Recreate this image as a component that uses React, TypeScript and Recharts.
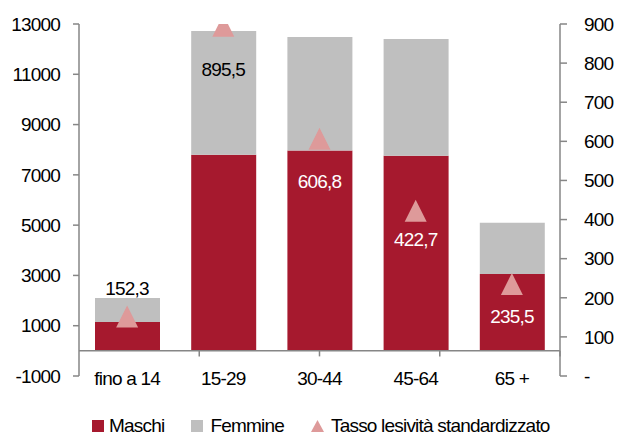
import { ComposedChart, Bar, Line, XAxis, YAxis, ReferenceLine } from "recharts";

const categories = ["fino a 14", "15-29", "30-44", "45-64", "65 +"];
const maschi = [1150, 7800, 7970, 7760, 3060];
const femmine = [950, 4920, 4510, 4640, 2040];
const tasso = [152.3, 895.5, 606.8, 422.7, 235.5];
const leftTicks = [-1000, 1000, 3000, 5000, 7000, 9000, 11000, 13000];
const rightTicks = [0, 100, 200, 300, 400, 500, 600, 700, 800, 900];
const boundaries = [1, 2, 3, 4];

// label placement relative to the triangle (px), and text colour
const labelShift = [-28, 44, 43, 29, 33];
const labelColor = ["#000", "#000", "#fff", "#fff", "#fff"];

const RED = "#A6192E";
const GREY = "#BFBFBF";
const PINK = "#DE9A9A";
const AXIS = "#868686";
const FONT = "'Liberation Sans', Arial, sans-serif";
const TRI = 11;

const data = categories.map((name, i) => ({
    name,
    maschi: maschi[i],
    femmine: femmine[i],
    tasso: tasso[i],
}));

const textStyle = { fontSize: 19, letterSpacing: -0.8, fontFamily: FONT };
const tickStyle = { fill: "#000", ...textStyle };

function Triangle(props: any) {
    const { cx, cy } = props;
    if (cx == null || cy == null) return null;
    return (
        <polygon
            points={`${cx},${cy - TRI} ${cx - TRI},${cy + TRI} ${cx + TRI},${cy + TRI}`}
            fill={PINK}
        />
    );
}

function TassoLabel(props: any) {
    const { x, y, index, value } = props;
    return (
        <text
            x={x}
            y={y + labelShift[index]}
            textAnchor="middle"
            dominantBaseline="central"
            fill={labelColor[index]}
            style={textStyle}
        >
            {Number(value).toFixed(1).replace(".", ",")}
        </text>
    );
}

function CatTick(props: any) {
    const { x, y, payload } = props;
    return (
        <text x={x} y={y + 9} textAnchor="middle" fill="#000" style={textStyle}>
            {payload.value}
        </text>
    );
}

function LegendRow() {
    const item = { display: "flex", alignItems: "center", gap: 5 };
    return (
        <div
            style={{
                position: "absolute",
                left: 92,
                top: 416,
                display: "flex",
                gap: 27,
                fontFamily: FONT,
                fontSize: 19,
                letterSpacing: -0.8,
                lineHeight: "20px",
            }}
        >
            <div style={item}>
                <span style={{ width: 12, height: 12, background: RED, display: "inline-block" }} />
                <span>Maschi</span>
            </div>
            <div style={item}>
                <span style={{ width: 12, height: 12, background: GREY, display: "inline-block", marginRight: 2 }} />
                <span>Femmine</span>
            </div>
            <div style={item}>
                <svg width={13} height={12}>
                    <polygon points="6.5,0 0,12 13,12" fill={PINK} />
                </svg>
                <span style={{ marginLeft: 2 }}>Tasso lesività standardizzato</span>
            </div>
        </div>
    );
}

export default function App() {
    return (
        <div style={{ position: "absolute", left: 0, top: 0, width: 623, height: 436, background: "#fff" }}>
            <ComposedChart
                width={623}
                height={436}
                data={data}
                margin={{ top: 24, right: 0, bottom: 0, left: 0 }}
            >
                <XAxis
                    xAxisId="cat"
                    dataKey="name"
                    axisLine={false}
                    tickLine={false}
                    tickSize={0}
                    tickMargin={0}
                    height={60}
                    interval={0}
                    tick={<CatTick />}
                />
                <XAxis xAxisId="pos" type="number" domain={[0, 5]} allowDataOverflow hide />
                <YAxis
                    yAxisId="left"
                    width={79}
                    domain={[-1000, 13000]}
                    ticks={leftTicks}
                    interval={0}
                    allowDataOverflow
                    axisLine={{ stroke: AXIS, strokeWidth: 1.5 }}
                    tickLine={{ stroke: AXIS, strokeWidth: 1.5 }}
                    tickSize={6}
                    tickMargin={13}
                    tick={tickStyle}
                />
                <YAxis
                    yAxisId="right"
                    orientation="right"
                    width={63}
                    domain={[0, 900]}
                    ticks={rightTicks}
                    interval={0}
                    allowDataOverflow
                    axisLine={{ stroke: AXIS, strokeWidth: 1.5 }}
                    tickLine={{ stroke: AXIS, strokeWidth: 1.5 }}
                    tickSize={7}
                    tickMargin={17}
                    tick={{ ...tickStyle, textAnchor: "start" }}
                    tickFormatter={(v: number) => (v === 0 ? "-" : String(v))}
                />
                <Bar
                    xAxisId="cat"
                    yAxisId="left"
                    dataKey="maschi"
                    name="Maschi"
                    stackId="a"
                    fill={RED}
                    barSize={65}
                    isAnimationActive={false}
                />
                <Bar
                    xAxisId="cat"
                    yAxisId="left"
                    dataKey="femmine"
                    name="Femmine"
                    stackId="a"
                    fill={GREY}
                    barSize={65}
                    isAnimationActive={false}
                />
                <ReferenceLine xAxisId="cat" yAxisId="left" y={0} stroke={AXIS} strokeWidth={1.5} />
                {boundaries.map((b) => (
                    <ReferenceLine
                        key={b}
                        xAxisId="pos"
                        yAxisId="left"
                        segment={[{ x: b, y: 0 }, { x: b, y: -220 }]}
                        stroke={AXIS}
                        strokeWidth={1.5}
                    />
                ))}
                <Line
                    xAxisId="cat"
                    yAxisId="right"
                    dataKey="tasso"
                    name="Tasso lesività standardizzato"
                    stroke="none"
                    dot={(p: any) => <Triangle key={p.index} {...p} />}
                    activeDot={false}
                    label={<TassoLabel />}
                    isAnimationActive={false}
                />
            </ComposedChart>
            <LegendRow />
        </div>
    );
}
